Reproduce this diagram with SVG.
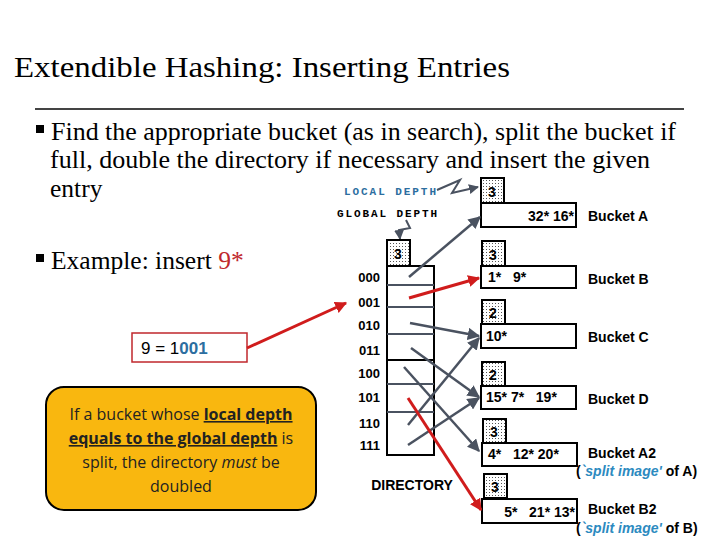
<svg xmlns="http://www.w3.org/2000/svg" width="720" height="540" viewBox="0 0 720 540">
<defs>
<pattern id="dots" width="3" height="3" patternUnits="userSpaceOnUse"><rect width="3" height="3" fill="#fff"/><rect width="1" height="1" fill="#555"/></pattern>
<marker id="ag" viewBox="0 0 10 10" refX="9" refY="5" markerWidth="5" markerHeight="5" orient="auto"><path d="M0,0L10,5L0,10z" fill="#4a5260"/></marker>
<marker id="ar" viewBox="0 0 10 10" refX="9" refY="5" markerWidth="4" markerHeight="4" orient="auto"><path d="M0,0L10,5L0,10z" fill="#d01c1c"/></marker>
<style>
.s{font-family:"Liberation Serif",serif}
.a{font-family:"Liberation Sans",Arial,sans-serif;font-size:13px}
.b{font-family:"Liberation Sans",Arial,sans-serif;font-size:14px;font-weight:bold;white-space:pre}
.m{font-family:"Liberation Mono",monospace;font-size:11px;font-weight:bold}
.d{fill:url(#dots);stroke:#000;stroke-width:2}
.bx{fill:#fff;stroke:#000;stroke-width:2}
.g{stroke:#4a5260;stroke-width:2.5;fill:none;marker-end:url(#ag)}
.r{stroke:#d01c1c;stroke-width:3;fill:none;marker-end:url(#ar)}
</style>
</defs>
<rect width="720" height="540" fill="#fff"/>
<text class="s" x="14" y="77" font-size="29" textLength="496" lengthAdjust="spacingAndGlyphs">Extendible Hashing: Inserting Entries</text>
<line x1="35" y1="109" x2="684" y2="109" stroke="#444" stroke-width="2"/>
<rect x="36" y="125" width="8" height="8" fill="#000"/>
<rect x="36" y="254" width="8" height="8" fill="#000"/>
<text class="s" x="51" y="140" font-size="25.5" textLength="625" lengthAdjust="spacingAndGlyphs">Find the appropriate bucket (as in search), split the bucket if</text>
<text class="s" x="50" y="168" font-size="25.5" textLength="600" lengthAdjust="spacingAndGlyphs">full, double the directory if necessary and insert the given</text>
<text class="s" x="50" y="197" font-size="25.5">entry</text>
<text class="s" x="51" y="269" font-size="25.5">Example: insert <tspan fill="#c0272d">9*</tspan></text>
<text class="m" x="344" y="195" fill="#2c6ea0" textLength="92">LOCAL DEPTH</text>
<text class="m" x="337" y="217" fill="#000" textLength="100">GLOBAL DEPTH</text>
<path d="M437,190 L460,180 L452,193 L478,187" stroke="#4a5260" stroke-width="2" fill="none" marker-end="url(#ag)"/>
<path d="M406,220 L410,228 L399,230 L400,239" stroke="#4a5260" stroke-width="2" fill="none" marker-end="url(#ag)"/>
<g id="note1"><rect x="132" y="333" width="115" height="29" fill="#fff" stroke="#c0272d" stroke-width="1.5"/><text x="141" y="354" font-family="Liberation Sans,sans-serif" font-size="17">9 = 1<tspan fill="#2c6ea0" font-weight="bold">001</tspan></text></g>
<g id="note2"><rect x="46" y="387" width="270" height="123" rx="18" fill="#f9b70f" stroke="#000" stroke-width="2"/>
<g font-family="'Open Sans','Noto Sans',sans-serif" font-size="16" text-anchor="middle" fill="#222">
<text x="181" y="420">If a bucket whose <tspan font-weight="bold" text-decoration="underline">local depth</tspan></text>
<text x="181" y="444"><tspan font-weight="bold" text-decoration="underline">equals to the global depth</tspan> is</text>
<text x="181" y="468">split, the directory <tspan font-style="italic">must</tspan> be</text>
<text x="181" y="492">doubled</text></g></g>
<g id="directory">
<rect class="d" x="387" y="240" width="23" height="26"/>
<text class="b" x="398" y="259" text-anchor="middle" font-size="16">3</text>
<rect class="bx" x="387" y="266" width="47" height="189"/>
<g stroke="#4a5260" stroke-width="2"><line x1="387" y1="285" x2="434" y2="285"/><line x1="387" y1="307" x2="434" y2="307"/><line x1="387" y1="334" x2="434" y2="334"/><line x1="387" y1="384" x2="434" y2="384"/><line x1="387" y1="412" x2="434" y2="412"/></g>
<line x1="387" y1="360" x2="434" y2="360" stroke="#000" stroke-width="2"/>
<g class="a" font-size="13" font-weight="bold" text-anchor="end">
<text x="380" y="282">000</text><text x="380" y="307">001</text><text x="380" y="330">010</text><text x="380" y="355">011</text><text x="380" y="378">100</text><text x="380" y="402">101</text><text x="380" y="428">110</text><text x="380" y="450">111</text></g>
<text class="b" x="412" y="490" text-anchor="middle">DIRECTORY</text>
</g>
<g id="bucketA"><rect class="d" x="481" y="178" width="23" height="25"/><text class="b" x="492" y="197" text-anchor="middle" font-size="16">3</text><rect class="bx" x="481" y="203" width="95" height="24"/><text class="b" x="574" y="221" text-anchor="end">32* 16*</text><text class="b" x="588" y="221">Bucket A</text></g>
<g id="bucketB"><rect class="d" x="482" y="241" width="23" height="25"/><text class="b" x="493" y="260" text-anchor="middle" font-size="16">3</text><rect class="bx" x="481" y="266" width="95" height="22"/><text class="b" x="488" y="282">1*   9*</text><text class="b" x="588" y="284">Bucket B</text></g>
<g id="bucketC"><rect class="d" x="482" y="300" width="23" height="24"/><text class="b" x="493" y="318" text-anchor="middle" font-size="16">2</text><rect class="bx" x="481" y="324" width="95" height="24"/><text class="b" x="486" y="341">10*</text><text class="b" x="588" y="342">Bucket C</text></g>
<g id="bucketD"><rect class="d" x="482" y="362" width="23" height="24"/><text class="b" x="493" y="380" text-anchor="middle" font-size="16">2</text><rect class="bx" x="481" y="386" width="95" height="23"/><text class="b" x="486" y="402">15* 7*   19*</text><text class="b" x="588" y="404">Bucket D</text></g>
<g id="bucketA2"><rect class="d" x="483" y="419" width="23" height="24"/><text class="b" x="494" y="437" text-anchor="middle" font-size="16">3</text><rect class="bx" x="482" y="443" width="95" height="23"/><text class="b" x="488" y="459">4*   12* 20*</text><text class="b" x="588" y="458">Bucket A2</text><text class="b" x="576" y="476">(<tspan fill="#2c8ac0" font-style="italic">`split image'</tspan> of A)</text></g>
<g id="bucketB2"><rect class="d" x="484" y="474" width="23" height="24"/><text class="b" x="495" y="492" text-anchor="middle" font-size="16">3</text><rect class="bx" x="482" y="499" width="95" height="24"/><text class="b" x="575" y="517" text-anchor="end">5*   21* 13*</text><text class="b" x="588" y="514">Bucket B2</text><text class="b" x="576" y="533">(<tspan fill="#2c8ac0" font-style="italic">`split image'</tspan> of B)</text></g>
<g id="connectors">
<line class="g" x1="409" y1="277" x2="480" y2="217"/>
<line class="g" x1="410" y1="323" x2="479" y2="336"/>
<line class="g" x1="411" y1="348" x2="479" y2="397"/>
<line class="g" x1="404" y1="367" x2="479" y2="451"/>
<line class="g" x1="408" y1="425" x2="479" y2="338"/>
<line class="g" x1="408" y1="445" x2="479" y2="398"/>
<line class="r" x1="409" y1="298" x2="479" y2="278"/>
<line class="r" x1="408" y1="398" x2="481" y2="510"/>
<line class="r" x1="247" y1="348" x2="346" y2="303"/>
</g>
</svg>
